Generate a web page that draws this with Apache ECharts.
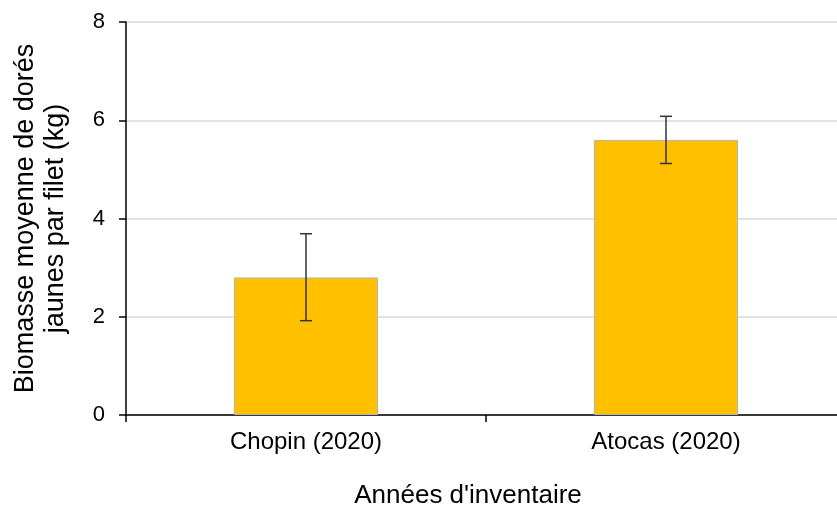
<!DOCTYPE html>
<html><head><meta charset="utf-8">
<script src="https://cdn.jsdelivr.net/npm/echarts@6/dist/echarts.min.js"></script>
<style>html,body{margin:0;padding:0;background:#fff;overflow:hidden}#c{width:837px;height:510px}</style>
</head><body><div id="c"></div>
<script>
const categories = ["Chopin (2020)", "Atocas (2020)"];
const biomass = [2.80, 5.60];
const errLow = [1.92, 5.12];
const errHigh = [3.69, 6.08];
const yTicks = [0, 2, 4, 6, 8];

const chart = echarts.init(document.getElementById('c'));
const font = 'Liberation Sans, Arial, sans-serif';
chart.setOption({
  animation: false,
  grid: {left: 126, right: -9, top: 22, bottom: 95, containLabel: false, outerBoundsMode: 'none'},
  xAxis: {
    type: 'category', data: categories,
    axisLine: {lineStyle: {color: '#000', width: 1.5}},
    axisTick: {show: true, length: 7, lineStyle: {color: '#000', width: 1.5}},
    axisLabel: {color: '#000', fontFamily: font, fontSize: 24, margin: 15},
    name: "Années d'inventaire", nameLocation: 'middle', nameGap: 68,
    nameTextStyle: {color: '#000', fontFamily: font, fontSize: 26, padding: [0, 36, 0, 0]}
  },
  yAxis: {
    type: 'value', min: yTicks[0], max: yTicks[yTicks.length-1], interval: 2,
    axisLine: {show: true, lineStyle: {color: '#000', width: 1.5}},
    axisTick: {show: true, length: 7, lineStyle: {color: '#000', width: 1.5}},
    axisLabel: {color: '#000', fontFamily: font, fontSize: 22, margin: 21},
    splitLine: {lineStyle: {color: '#d9d9d9', width: 1.5}},
    name: "Biomasse moyenne de dorés\njaunes par filet (kg)", nameLocation: 'middle', nameGap: 55,
    nameRotate: 90,
    nameTextStyle: {color: '#000', fontFamily: font, fontSize: 27, lineHeight: 30}
  },
  series: [
    {
      type: 'bar', data: biomass, barWidth: '40%',
      itemStyle: {color: '#FFC000', borderColor: '#b4b4b4', borderWidth: 1}
    },
    {
      type: 'custom',
      data: categories.map((c, i) => [i, errLow[i], errHigh[i]]),
      renderItem: function (params, api) {
        const lo = api.coord([api.value(0), api.value(1)]);
        const hi = api.coord([api.value(0), api.value(2)]);
        const hw = 6;
        const st = {stroke: '#333', lineWidth: 1.5};
        return {type: 'group', children: [
          {type: 'line', shape: {x1: hi[0], y1: hi[1], x2: lo[0], y2: lo[1]}, style: st},
          {type: 'line', shape: {x1: hi[0]-hw, y1: hi[1], x2: hi[0]+hw, y2: hi[1]}, style: st},
          {type: 'line', shape: {x1: lo[0]-hw, y1: lo[1], x2: lo[0]+hw, y2: lo[1]}, style: st}
        ]};
      },
      z: 10
    }
  ]
});
</script></body></html>
